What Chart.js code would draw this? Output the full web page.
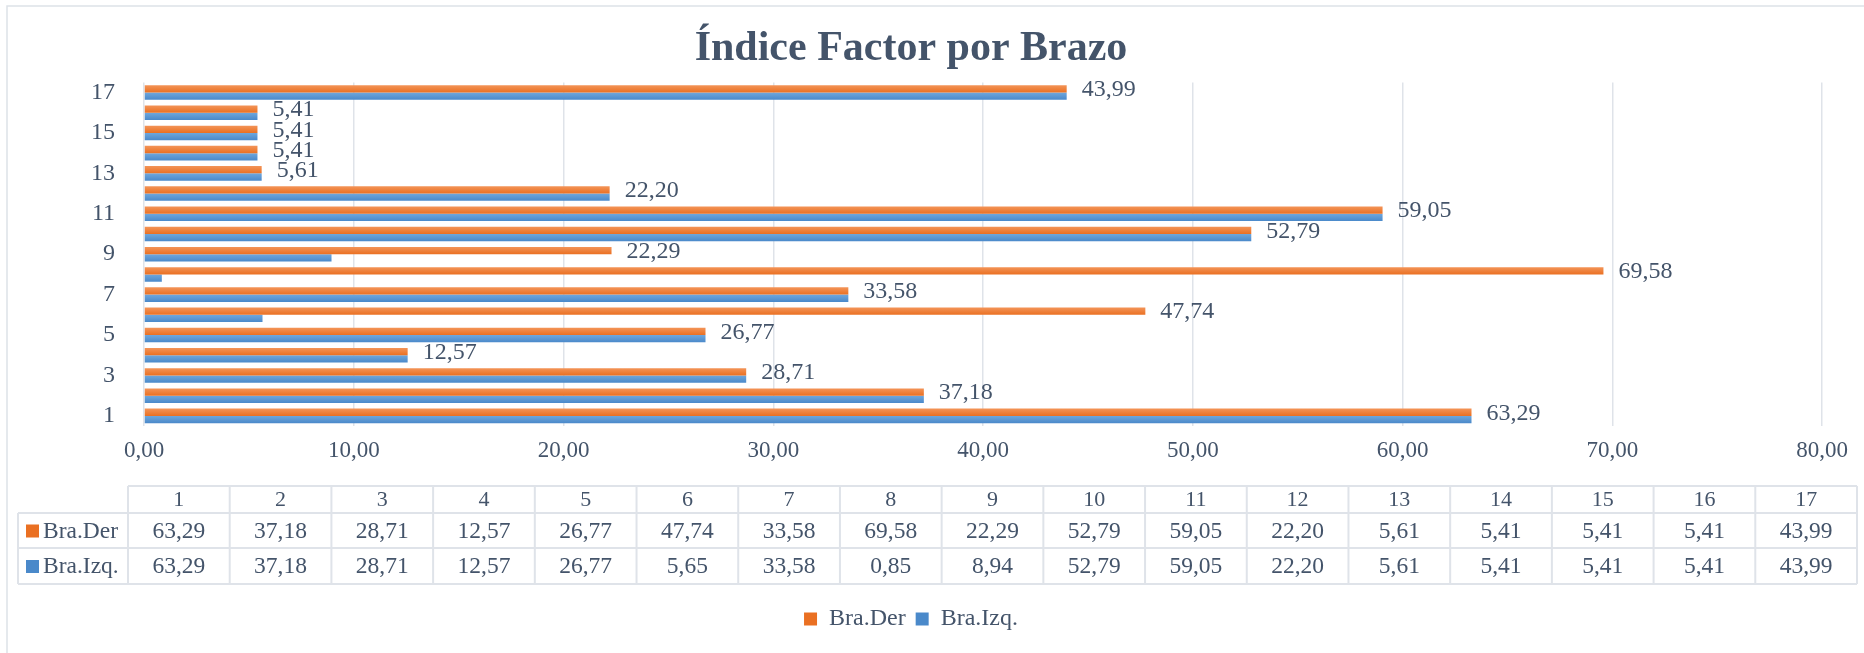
<!DOCTYPE html>
<html>
<head>
<meta charset="utf-8">
<script src="https://cdn.jsdelivr.net/npm/chart.js@4.4.1/dist/chart.umd.min.js"></script>
<style>
  html, body { margin: 0; padding: 0; background: #fff; }
  #wrap { width: 1864px; height: 653px; }
</style>
</head>
<body>
<div id="wrap"><canvas id="barChart" width="1864" height="653"></canvas></div>
<script>
// data
const categories = ['1', '2', '3', '4', '5', '6', '7', '8', '9', '10', '11', '12', '13', '14', '15', '16', '17'];
const braDer = [63.29, 37.18, 28.71, 12.57, 26.77, 47.74, 33.58, 69.58, 22.29, 52.79, 59.05, 22.20, 5.61, 5.41, 5.41, 5.41, 43.99];
const braIzq = [63.29, 37.18, 28.71, 12.57, 26.77, 5.65, 33.58, 0.85, 8.94, 52.79, 59.05, 22.20, 5.61, 5.41, 5.41, 5.41, 43.99];
const seriesNames = ['Bra.Der', 'Bra.Izq.'];
const xTicks = [0, 10, 20, 30, 40, 50, 60, 70, 80];

const FONT = 'Liberation Serif, Times New Roman, serif';
const TEXT = '#44546A';
const GRID = '#DFE3E9';
const ORANGE = ['#F39458', '#EA7022'];
const BLUE = ['#6FA7DC', '#4A89CA'];

const fmt = v => v.toFixed(2).replace('.', ',');

// excel-like vertical gradient on each bar, placed from the category scale
function barFill(colors, upper) {
    return (c) => {
        const chart = c.chart;
        const y = chart.scales.y;
        if (!y || c.dataIndex === undefined || !chart.chartArea) return colors[1];
        const band = chart.chartArea.height / categories.length * 0.72 / 2;
        const mid = y.getPixelForValue(c.dataIndex);
        const top = upper ? mid - band : mid;
        const g = chart.ctx.createLinearGradient(0, top, 0, top + band);
        g.addColorStop(0, colors[0]);
        g.addColorStop(1, colors[1]);
        return g;
    };
}

// frame round the chart
const framePlugin = {
    id: 'frame',
    beforeDraw(chart) {
        const ctx = chart.ctx;
        ctx.save();
        ctx.strokeStyle = '#DDE2E8';
        ctx.lineWidth = 1.5;
        ctx.strokeRect(7, 6, 2000, 2000);
        ctx.restore();
    }
};

// value labels after the Bra.Der bars
const valueLabels = {
    id: 'valueLabels',
    afterDatasetsDraw(chart) {
        const ctx = chart.ctx;
        const meta = chart.getDatasetMeta(0);
        ctx.save();
        ctx.font = '24px ' + FONT;
        ctx.fillStyle = TEXT;
        ctx.textAlign = 'left';
        ctx.textBaseline = 'middle';
        meta.data.forEach((bar, i) => {
            ctx.fillText(fmt(braDer[i]), bar.x + 15, bar.y + 1);
        });
        ctx.restore();
    }
};

// data table under the axis
const dataTable = {
    id: 'dataTable',
    afterDraw(chart) {
        const ctx = chart.ctx;
        const left = 18, headLeft = 128, right = 1857;
        const top = chart.chartArea.bottom + 60;
        const rowY = [top, top + 27, top + 62, top + 98];
        const w = (right - headLeft) / categories.length;
        ctx.save();
        ctx.strokeStyle = GRID;
        ctx.lineWidth = 2;
        ctx.beginPath();
        ctx.moveTo(headLeft, rowY[0]); ctx.lineTo(right, rowY[0]);
        for (let r = 1; r < 4; r++) { ctx.moveTo(left, rowY[r]); ctx.lineTo(right, rowY[r]); }
        ctx.moveTo(left, rowY[1]); ctx.lineTo(left, rowY[3]);
        for (let k = 0; k <= categories.length; k++) {
            ctx.moveTo(headLeft + k * w, rowY[0]); ctx.lineTo(headLeft + k * w, rowY[3]);
        }
        ctx.stroke();

        ctx.fillStyle = TEXT;
        ctx.textAlign = 'center';
        ctx.textBaseline = 'middle';
        ctx.font = '22px ' + FONT;
        categories.forEach((c, i) => ctx.fillText(c, headLeft + (i + 0.5) * w, (rowY[0] + rowY[1]) / 2 + 1));
        ctx.font = '23.5px ' + FONT;
        [braDer, braIzq].forEach((vals, r) => {
            const cy = (rowY[r + 1] + rowY[r + 2]) / 2 + 1;
            vals.forEach((v, i) => ctx.fillText(fmt(v), headLeft + (i + 0.5) * w, cy));
            ctx.fillStyle = r === 0 ? ORANGE[1] : BLUE[1];
            ctx.fillRect(left + 8, cy - 7, 13, 13);
            ctx.fillStyle = TEXT;
            ctx.textAlign = 'left';
            ctx.fillText(seriesNames[r], left + 25, cy);
            ctx.textAlign = 'center';
        });
        ctx.restore();
    }
};

const ctx = document.getElementById('barChart').getContext('2d');
new Chart(ctx, {
    type: 'bar',
    data: {
        labels: categories,
        datasets: [
            { label: seriesNames[0], data: braDer, backgroundColor: barFill(ORANGE, true), borderWidth: 0 },
            { label: seriesNames[1], data: braIzq, backgroundColor: barFill(BLUE, false), borderWidth: 0 }
        ]
    },
    options: {
        indexAxis: 'y',
        responsive: false,
        animation: false,
        devicePixelRatio: 1,
        categoryPercentage: 0.72,
        barPercentage: 1,
        layout: { padding: { left: 0, right: 42, top: 0, bottom: 12 } },
        scales: {
            x: {
                min: xTicks[0],
                max: xTicks[xTicks.length - 1],
                afterBuildTicks: s => { s.ticks = xTicks.map(v => ({ value: v })); },
                afterFit: s => { s.height = s.chart.height - 12 - s.chart.legend.height - 426; },
                grid: { color: GRID, lineWidth: 1.5, drawTicks: false },
                border: { display: false },
                ticks: {
                    callback: v => fmt(v),
                    color: TEXT,
                    padding: 11,
                    maxRotation: 0,
                    font: { family: FONT, size: 23 }
                }
            },
            y: {
                reverse: true,
                afterFit: s => { s.width = 144; },
                grid: { display: false },
                border: { display: false },
                ticks: {
                    autoSkip: false,
                    callback: (v, i) => (i % 2 === 0 ? categories[i] : ''),
                    color: TEXT,
                    padding: 21,
                    font: { family: FONT, size: 24 }
                }
            }
        },
        plugins: {
            title: {
                display: true,
                text: 'Índice Factor por Brazo',
                color: TEXT,
                font: { family: FONT, size: 42, weight: 'bold' },
                padding: { top: 24, bottom: 8 }
            },
            legend: {
                position: 'bottom',
                labels: {
                    color: TEXT,
                    boxWidth: 13,
                    boxHeight: 13,
                    padding: 10,
                    font: { family: FONT, size: 24 },
                    generateLabels: chart => seriesNames.map((n, i) => ({
                        text: n,
                        fillStyle: i === 0 ? ORANGE[1] : BLUE[1],
                        strokeStyle: 'transparent',
                        lineWidth: 0,
                        datasetIndex: i,
                        fontColor: TEXT
                    }))
                }
            },
            tooltip: { enabled: false }
        }
    },
    plugins: [framePlugin, valueLabels, dataTable]
});
</script>
</body>
</html>
